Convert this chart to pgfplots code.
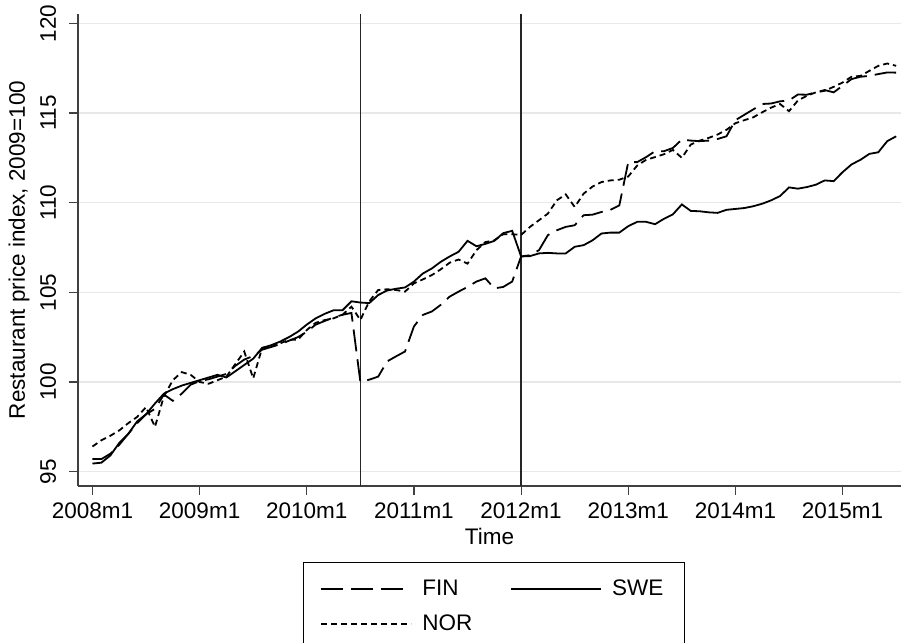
\documentclass[border=0pt]{standalone}
\usepackage{fontspec}
\setmainfont{Liberation Sans}
\usepackage{pgfplots}
\usepackage{pgfplotstable}
\pgfplotsset{compat=1.18}
\pgfplotstableread{
t fin swe nor
0 95.7 95.45 96.4
1 95.7 95.5 96.75
2 96.0 95.9 97.0
3 96.5 96.6 97.3
4 97.1 97.1 97.7
5 97.7 97.8 98.05
6 98.2 98.2 98.6
7 98.5 98.8 97.5
8 99.3 99.35 99.2
9 98.95 99.6 100.1
10 99.35 99.8 100.55
11 99.85 99.95 100.4
12 100.05 100.1 100.0
13 100.15 100.25 99.9
14 100.3 100.4 100.1
15 100.45 100.25 100.3
16 100.9 100.6 101.0
17 101.25 100.95 101.7
18 101.45 101.3 100.2
19 101.8 101.9 101.9
20 101.95 102.05 102.0
21 102.1 102.25 102.15
22 102.3 102.5 102.35
23 102.5 102.8 102.35
24 102.8 103.2 102.9
25 103.2 103.55 103.3
26 103.4 103.8 103.45
27 103.6 104.0 103.55
28 103.75 104.0 103.75
29 103.85 104.5 104.2
30 100.0 104.43 103.46
31 100.13 104.4 104.5
32 100.3 104.85 105.13
33 101.15 105.1 105.17
34 101.43 105.2 105.13
35 101.7 105.27 105.04
36 103.1 105.6 105.5
37 103.74 106.05 105.72
38 103.93 106.33 105.96
39 104.3 106.7 106.28
40 104.76 107.0 106.65
41 105.04 107.26 106.83
42 105.3 107.87 106.6
43 105.6 107.57 107.35
44 105.78 107.7 107.8
45 105.22 107.87 107.9
46 105.3 108.3 108.24
47 105.6 108.43 108.24
48 107.0 107.0 108.2
49 107.07 107.02 108.65
50 107.35 107.17 109.02
51 108.19 107.2 109.39
52 108.46 107.17 110.13
53 108.65 107.17 110.46
54 108.74 107.54 109.76
55 109.3 107.63 110.5
56 109.33 107.9 110.9
57 109.48 108.28 111.15
58 109.6 108.33 111.24
59 109.85 108.33 111.28
60 112.26 108.69 111.46
61 112.26 108.93 112.07
62 112.54 108.93 112.39
63 112.87 108.8 112.54
64 112.87 109.1 112.7
65 113.05 109.35 112.94
66 113.52 109.9 112.5
67 113.46 109.54 113.24
68 113.43 109.52 113.46
69 113.46 109.46 113.61
70 113.55 109.43 113.8
71 113.7 109.6 114.06
72 114.6 109.65 114.43
73 114.9 109.7 114.6
74 115.2 109.8 114.76
75 115.5 109.94 115.04
76 115.53 110.13 115.3
77 115.65 110.37 115.5
78 115.7 110.85 115.1
79 116.03 110.78 115.7
80 116.02 110.87 115.96
81 116.15 111.0 116.15
82 116.28 111.24 116.24
83 116.15 111.2 116.46
84 116.52 111.7 116.7
85 116.89 112.13 117.02
86 117.02 112.39 117.07
87 117.07 112.72 117.35
88 117.17 112.81 117.63
89 117.26 113.43 117.76
90 117.25 113.7 117.63
}\datatable
\newcommand{\chartfont}{\fontsize{11.25}{13.5}\selectfont}
\begin{document}
\chartfont
\begin{tikzpicture}
\path[use as bounding box] (-39pt,-78.5pt) rectangle (412pt,243pt);
\begin{axis}[
  at={(0pt,0pt)}, anchor=south west,
  scale only axis, width=411.5pt, height=236pt,
  xmin=-1.62, xmax=90.54, ymin=94.2, ymax=120.52,
  axis lines=left,
  axis line style={-, draw=black!75, line width=0.7pt},
  xtick={0,12,24,36,48,60,72,84},
  xticklabels={2008m1,2009m1,2010m1,2011m1,2012m1,2013m1,2014m1,2015m1},
  ytick={95,100,105,110,115,120},
  ymajorgrids,
  grid style={draw=black!9, line width=0.8pt},
  tick align=outside, major tick length=4.5pt,
  tick style={draw=black!75, line width=0.6pt},
  /pgf/number format/assume math mode=true,
  tick label style={font=\chartfont},
  yticklabel style={rotate=90, anchor=south, yshift=2.5pt},
  label style={font=\chartfont},
  every axis x label/.style={at={(axis description cs:0.5,0)}, anchor=center, yshift=-25pt},
  every axis y label/.style={at={(axis description cs:-0.0717,0.5)}, rotate=90, anchor=center},
  xlabel={Time},
  ylabel={Restaurant price index, 2009=100},
  legend columns=2,
  legend image code/.code={\draw[#1] (-2pt,0pt) -- (43pt,0pt);},
  legend style={at={(axis description cs:0.5,0)}, anchor=north, xshift=2.25pt, yshift=-38pt,
    draw=black, line width=0.6pt, font=\chartfont, inner xsep=8.5pt, inner ysep=6.5pt,
    cells={anchor=west},
    /tikz/every odd column/.append style={column sep=3pt},
    /tikz/every even column/.append style={column sep=17pt},
    row sep=4pt},
]
\addplot[forget plot, black!85, line width=0.8pt] coordinates {(30,94.2) (30,120.52)};
\addplot[forget plot, black!85, line width=0.8pt] coordinates {(48,94.2) (48,120.52)};
\addplot[black, line width=0.9pt, dash pattern=on 11pt off 4pt] table[x=t, y=fin] {\datatable};
\addlegendentry{FIN}
\addplot[black, line width=0.9pt] table[x=t, y=swe] {\datatable};
\addlegendentry{SWE}
\addplot[black, line width=0.9pt, dash pattern=on 3pt off 2pt] table[x=t, y=nor] {\datatable};
\addlegendentry{NOR}
\end{axis}
\end{tikzpicture}
\end{document}
